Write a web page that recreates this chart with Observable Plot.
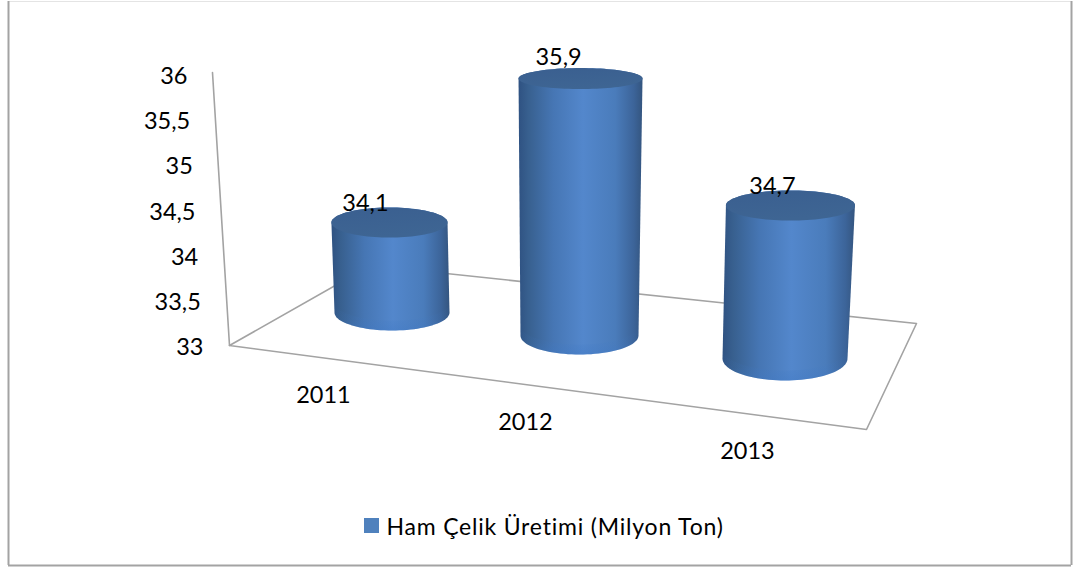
<!DOCTYPE html>
<html>
<head>
<meta charset="utf-8">
<style>
  html, body { margin: 0; padding: 0; background: #fff; }
  svg { display: block; }
  .legend-label text { letter-spacing: 0.8px; }
</style>
<script src="https://cdn.jsdelivr.net/npm/d3@7"></script>
<script src="https://cdn.jsdelivr.net/npm/@observablehq/plot@0.6"></script>
</head>
<body>
<div id="chart"></div>
<script>
// Crude steel output per year
const years = ["2011", "2012", "2013"];
const output = [34.1, 35.9, 34.7];
const axisTicks = [33, 33.5, 34, 34.5, 35, 35.5, 36];
const seriesName = "Ham Çelik Üretimi (Milyon Ton)";

const decimalComma = (v) => String(v).replace(".", ",");
const baseLevel = 33;

// Perspective of the scene: where each column stands on the floor and how it
// changes as it rises, one value unit at a time.
const stands = [
  {x: 391.5, y: 312, rx: 57.5, ry: 18, rise: 81.8, lean: -2.3, rxGrow: 0.5, ryGrow: -2.7, labelDx: -24, labelDy: -19},
  {x: 579, y: 335, rx: 59, ry: 19, rise: 88.6, lean: 0.35, rxGrow: 1.03, ryGrow: -2.93, labelDx: -22, labelDy: -21},
  {x: 784.5, y: 358, rx: 62.5, ry: 22, rise: 90, lean: 3.2, rxGrow: 1.18, ryGrow: -4.1, labelDx: -18, labelDy: -19}
];

// Ring of the column at a given value level
function ring(stand, level) {
  const d = level - baseLevel;
  return {
    x: stand.x + stand.lean * d,
    y: stand.y - stand.rise * d,
    rx: stand.rx + stand.rxGrow * d,
    ry: stand.ry + stand.ryGrow * d
  };
}
const arc = (r, from, to, n = 48) =>
  d3.range(n + 1).map((i) => {
    const t = from + ((to - from) * i) / n;
    return {x: r.x + r.rx * Math.cos(t), y: r.y + r.ry * Math.sin(t)};
  });

const columns = years.map((year, i) => {
  const foot = ring(stands[i], baseLevel);
  const head = ring(stands[i], output[i]);
  return {
    year,
    value: output[i],
    head,
    labelX: head.x + stands[i].labelDx,
    labelY: head.y + stands[i].labelDy,
    body: [...arc(head, Math.PI, 2 * Math.PI), ...arc(foot, 0, Math.PI)],
    cap: arc(head, 0, 2 * Math.PI, 96),
    rim: [...arc({...foot, y: foot.y - 10}, Math.PI, 0), ...arc(foot, 0, Math.PI)]
  };
});

// Value axis, the floor outline behind and in front of the columns
const axisPoint = (v) => ({x: 229 - 5.67 * (v - baseLevel), y: 345 - 91 * (v - baseLevel)});
const axisLabelPoint = (v) => ({x: 203 - 5.33 * (v - baseLevel), y: 347 - 90.3 * (v - baseLevel)});
const floorOutline = [
  {x: 229, y: 345}, {x: 370, y: 265}, {x: 916, y: 323}, {x: 866, y: 429}, {x: 229, y: 345}
];
const yearLabels = [{x: 323, y: 395}, {x: 525, y: 422}, {x: 747, y: 451}];

const grey = "#a3a3a3";
const font = "Lato, sans-serif";

// Shading definitions shared by the cylinder marks
const shading = () => {
  const defs = d3.create("svg:defs");
  const side = defs.append("linearGradient").attr("id", "sideShade");
  [[0, "#2f5282"], [0.08, "#38608f"], [0.28, "#4676b4"], [0.52, "#5387cc"],
   [0.78, "#4a7cbb"], [0.93, "#3c6499"], [1, "#34557f"]]
    .forEach(([o, c]) => side.append("stop").attr("offset", o).attr("stop-color", c));
  const cap = defs.append("linearGradient").attr("id", "capShade").attr("x2", 0.3).attr("y2", 1);
  [[0, "#3a5f90"], [1, "#3e6593"]]
    .forEach(([o, c]) => cap.append("stop").attr("offset", o).attr("stop-color", c));
  const rim = defs.append("linearGradient").attr("id", "rimShade").attr("x2", 0).attr("y2", 1);
  [[0, "#3f78c4", 0], [0.6, "#3f78c4", 0.1], [1, "#3f78c4", 0.4]]
    .forEach(([o, c, a]) => rim.append("stop").attr("offset", o).attr("stop-color", c).attr("stop-opacity", a));
  return defs.node();
};

const chart = Plot.plot({
  width: 1074,
  height: 567,
  marginLeft: 8,
  marginRight: 3,
  marginTop: 1,
  marginBottom: 2,
  x: {domain: [8, 1071], axis: null},
  y: {domain: [565, 1], axis: null},
  style: {background: "#fff", fontFamily: font},
  marks: [
    shading,

    // Chart border: the top edge is much fainter than the others
    Plot.ruleY([1], {stroke: "#e4e4e4", strokeWidth: 1}),
    Plot.ruleX([8, 1071], {stroke: grey, strokeWidth: 2}),
    Plot.ruleY([565], {stroke: grey, strokeWidth: 2}),

    // Scene lines
    Plot.line(axisTicks.filter((t) => t === 33 || t === 36).map(axisPoint),
      {x: "x", y: "y", stroke: grey, strokeWidth: 1.6}),
    Plot.line(floorOutline, {x: "x", y: "y", stroke: grey, strokeWidth: 1.6}),

    // Cylinders
    ...columns.flatMap((c) => [
      Plot.line(c.body, {x: "x", y: "y", fill: "url(#sideShade)", stroke: "none"}),
      Plot.line(c.rim, {x: "x", y: "y", fill: "url(#rimShade)", stroke: "none"}),
      Plot.line(c.cap, {x: "x", y: "y", fill: "url(#capShade)", stroke: "none"})
    ]),

    // Value axis labels
    Plot.text(axisTicks, {
      x: (t) => axisLabelPoint(t).x,
      y: (t) => axisLabelPoint(t).y,
      text: decimalComma,
      textAnchor: "end",
      fontSize: 23.5,
      fill: "#000"
    }),

    // Year labels
    Plot.text(years, {
      x: (_, i) => yearLabels[i].x,
      y: (_, i) => yearLabels[i].y,
      text: (d) => d,
      fontSize: 23.5,
      fill: "#000"
    }),

    // Value labels above each cylinder
    Plot.text(columns, {
      x: "labelX",
      y: "labelY",
      text: (c) => decimalComma(c.value),
      fontSize: 23.5,
      fill: "#000"
    }),

    // Legend
    Plot.rect([seriesName], {x1: () => 364, x2: () => 379, y1: () => 518, y2: () => 533, fill: "#4f81bd"}),
    Plot.text([seriesName], {
      x: () => 386,
      y: () => 527,
      text: (d) => d,
      textAnchor: "start",
      fontSize: 23,
      fill: "#000",
      className: "legend-label"
    })
  ]
});

document.getElementById("chart").append(chart);
</script>
</body>
</html>
